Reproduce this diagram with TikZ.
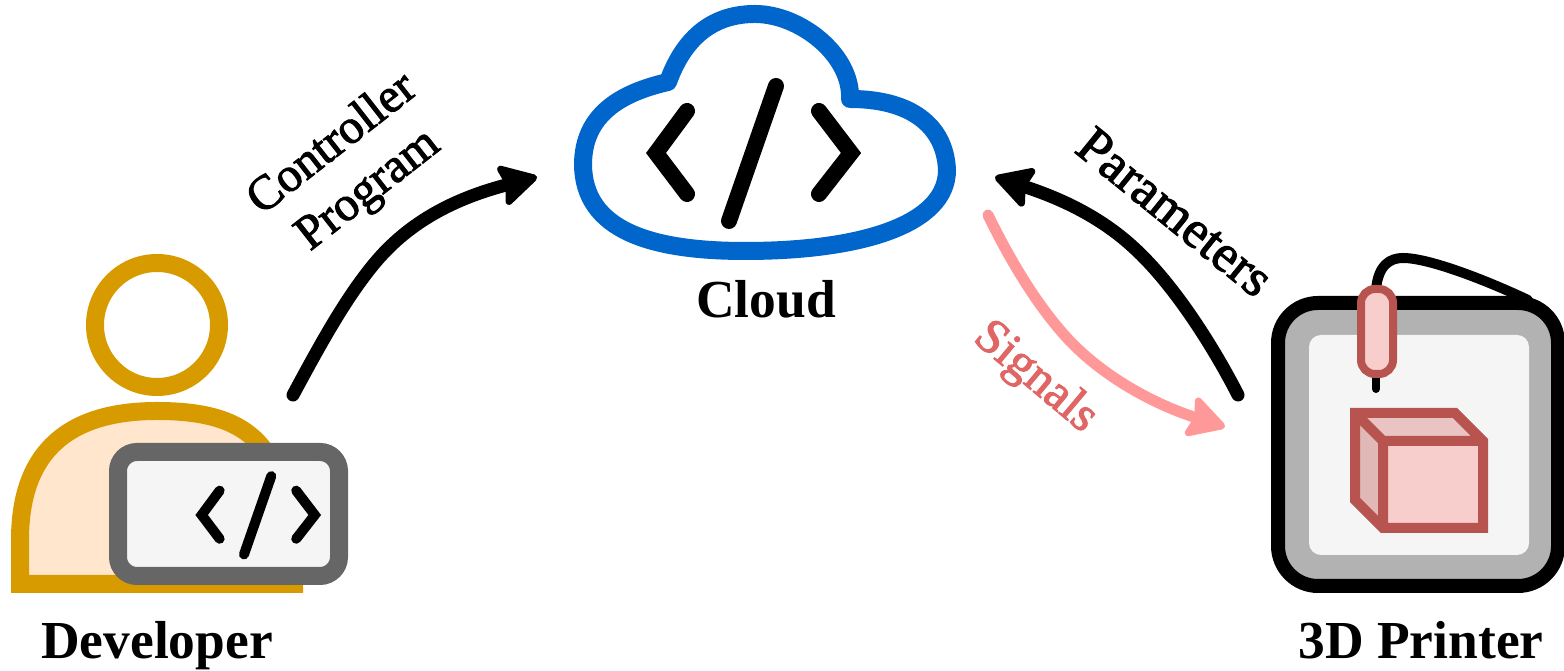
\documentclass[tikz,border=0pt]{standalone}
\usepackage{fontspec}
\setmainfont{Liberation Serif}
\newfontfamily\medfont[FakeBold=2]{Liberation Serif}
\usetikzlibrary{arrows.meta}
\definecolor{clouddraw}{HTML}{0066CC}
\definecolor{persondraw}{HTML}{D79B00}
\definecolor{personfill}{HTML}{FFE6CC}
\definecolor{laptopdraw}{HTML}{666666}
\definecolor{panelfill}{HTML}{F5F5F5}
\definecolor{partdraw}{HTML}{B85450}
\definecolor{partfill}{HTML}{F8CECC}
\definecolor{parttop}{HTML}{EAC3C3}
\definecolor{partside}{HTML}{E0B8B6}
\definecolor{signalline}{HTML}{FF9999}
\definecolor{signaltext}{HTML}{E06666}
\tikzset{
    pxw/.style={line width=#1*0.01cm},
    iconlabel/.style={font=\fontsize{15.2}{18}\selectfont\bfseries,anchor=base},
    flowlabel/.style={font=\fontsize{#1}{16.5}\selectfont\medfont,align=center},
    codeline/.style={line join=miter,line cap=round,black},
    flowarrow/.style={pxw=13,line cap=round,-{Stealth[round,length=0.42cm,width=0.46cm,inset=0.06cm,line width=0.07cm]}},
}
\begin{document}
\begin{tikzpicture}[x=0.01cm,y=-0.01cm]
            \def\codepath{(-67,-42) -- (-98,0) -- (-67,41) (22,-67) -- (-25,68) (65,-42) -- (97,0) -- (65,41)}
            \useasboundingbox (0,0) rectangle (1564,671);
            % cloud
            \draw [clouddraw,pxw=18,line join=round] (668,82) .. controls (685,35) and (715,14) .. (755,14)
                .. controls (800,14) and (852,55) .. (850,99)
                .. controls (910,99) and (945,125) .. (947,170)
                .. controls (947,225) and (860,251) .. (745,251)
                .. controls (650,251) and (584,230) .. (583,165)
                .. controls (583,115) and (620,93) .. cycle;
            \draw [codeline,pxw=16,shift={(754,153)}] \codepath ;
            \node [iconlabel] (cloudname) at (766,318) {Cloud};
            % developer
            \draw [persondraw,fill=personfill,pxw=18] (20,584) -- (20,540) .. controls (20,450) and (70,411) .. (157,411)
                .. controls (205,411) and (240,420) .. (262,447) -- (294,500) -- (294,584) -- cycle;
            \draw [persondraw,fill=white,pxw=18] (157,325) coordinate (head) circle(62);
            \draw [laptopdraw,fill=panelfill,pxw=18,rounded corners=0.19cm] (118,452) rectangle (339,576);
            \draw [codeline,pxw=10,shift={(258.5,515)},scale=0.58] \codepath ;
            \node [iconlabel] (developername) at (157,659) {Developer};
            % printer
            \draw [fill=black!30,pxw=14,rounded corners=0.4cm] (1278,303) rectangle (1558,586);
            \fill [panelfill,rounded corners=0.12cm] (1309,335) rectangle (1529,555);
            \draw [pxw=10,line cap=round] (1376,290) .. controls (1378,265) and (1390,258) .. (1403,258)
                .. controls (1430,258) and (1490,282) .. (1528,300);
            \draw [pxw=8,line cap=round] (1376,370) -- (1376,389);
            \draw [partdraw,fill=partfill,pxw=8,rounded corners=0.14cm] (1361,289) rectangle (1393,374);
            \fill [parttop] (1355,413) -- (1455,413) -- (1483,441) -- (1383,441) -- cycle;
            \fill [partside] (1355,413) -- (1383,441) -- (1383,528) -- (1355,500) -- cycle;
            \fill [partfill] (1383,441) rectangle (1483,528);
            \draw [partdraw,pxw=10,line join=miter] (1355,413) -- (1455,413) -- (1483,441) -- (1483,528) -- (1383,528) -- (1355,500) -- cycle
                (1355,413) -- (1383,441) (1483,441) -- (1383,441) -- (1383,528);
            \node [iconlabel] (printername) at (1421,659) {3D Printer};
            % arrows
            \coordinate (programstart) at (293,395);
            \coordinate (programend) at (537,177);
            \coordinate (paramstart) at (1238,395);
            \coordinate (paramend) at (995,177);
            \coordinate (signalstart) at (988,215);
            \coordinate (signalend) at (1225,427);
            \draw [flowarrow] (programstart) .. controls (320,345) and (348,293) .. (380,257)
                .. controls (415,218) and (460,197) .. (programend);
            \draw [flowarrow] (paramstart) .. controls (1215,350) and (1175,285) .. (1133,247)
                .. controls (1095,212) and (1050,195) .. (paramend);
            \draw [flowarrow,signalline,pxw=11] (signalstart) .. controls (1005,250) and (1030,295) .. (1060,330)
                .. controls (1095,372) and (1150,403) .. (signalend);
            \node [flowlabel=13.8,rotate=38] (programlabel) at (351,168) {Controller\\Program};
            \node [flowlabel=15,rotate=-39] (paramlabel) at (1175,212) {Parameters};
            \node [flowlabel=14,rotate=-40,text=signaltext] (signallabel) at (1035,378) {Signals};
        \end{tikzpicture}
\end{document}
